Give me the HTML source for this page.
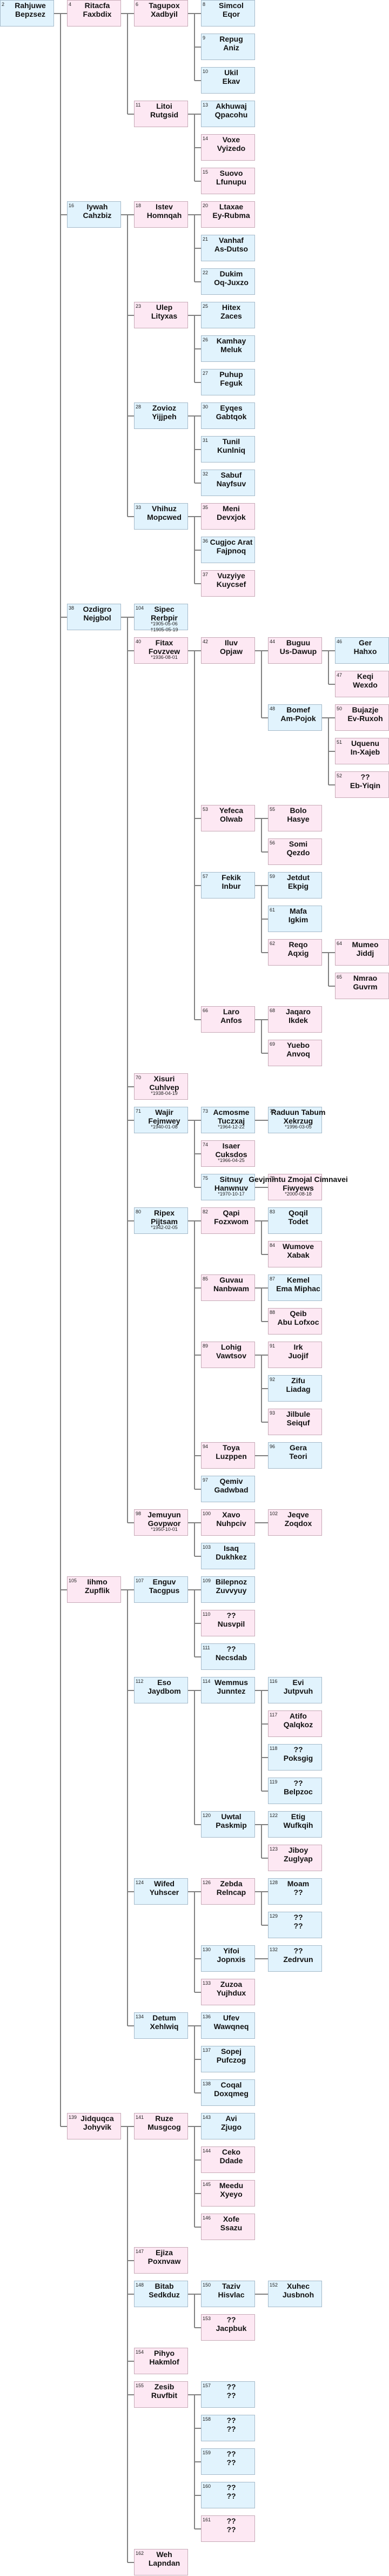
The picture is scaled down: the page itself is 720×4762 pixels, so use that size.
<!DOCTYPE html>
<html><head><meta charset="utf-8"><style>
html,body{margin:0;padding:0;background:#fff;}
body{width:720px;height:4762px;position:relative;overflow:hidden;font-family:"Liberation Sans",Arial,sans-serif;}
svg{position:absolute;left:0;top:0;}
.n{position:absolute;width:100px;height:49px;box-sizing:border-box;border:1px solid;}
.b{background:#e1f3fd;border-color:#a4b9c9;}
.p{background:#fde8f3;border-color:#c6a9b6;}
.n i{position:absolute;left:2px;top:2px;font-size:9px;line-height:10px;font-style:normal;color:#222;}
.n b{position:absolute;left:12px;right:0;top:1px;display:flex;flex-direction:column;align-items:center;font-size:14px;line-height:16px;white-space:nowrap;color:#111;}
.n b em{font-style:normal;font-weight:normal;font-size:9px;line-height:11px;color:#222;}
.n b em.f{margin-top:-2px;}
.c0{left:0}.c1{left:124px}.c2{left:248px}.c3{left:372px}.c4{left:496px}.c5{left:620px}
</style></head><body>
<svg width="720" height="4762"><path fill="none" stroke="#808080" stroke-width="2" d="
M100 25H124 M112 25V3931 M112 397H124 M112 1141H124 M112 2939H124 M112 3931H124
M224 25H248 M236 25V211 M236 211H248
M348 25H372 M360 25V149 M360 87H372 M360 149H372
M348 211H372 M360 211V335 M360 273H372 M360 335H372
M224 397H248 M236 397V955 M236 583H248 M236 769H248 M236 955H248
M348 397H372 M360 397V521 M360 459H372 M360 521H372
M348 583H372 M360 583V707 M360 645H372 M360 707H372
M348 769H372 M360 769V893 M360 831H372 M360 893H372
M348 955H372 M360 955V1079 M360 1017H372 M360 1079H372
M224 1141H248 M236 1141V2815 M236 1203H248 M236 2009H248 M236 2071H248 M236 2257H248 M236 2815H248
M348 1203H372 M360 1203V1885 M360 1513H372 M360 1637H372 M360 1885H372
M472 1203H496 M484 1203V1327 M484 1327H496
M596 1203H620 M608 1203V1265 M608 1265H620
M596 1327H620 M608 1327V1451 M608 1389H620 M608 1451H620
M472 1513H496 M484 1513V1575 M484 1575H496
M472 1637H496 M484 1637V1761 M484 1699H496 M484 1761H496
M596 1761H620 M608 1761V1823 M608 1823H620
M472 1885H496 M484 1885V1947 M484 1947H496
M348 2071H372 M360 2071V2195 M360 2133H372 M360 2195H372
M472 2071H496
M472 2195H496
M348 2257H372 M360 2257V2753 M360 2381H372 M360 2505H372 M360 2691H372 M360 2753H372
M472 2257H496 M484 2257V2319 M484 2319H496
M472 2381H496 M484 2381V2443 M484 2443H496
M472 2505H496 M484 2505V2629 M484 2567H496 M484 2629H496
M472 2691H496
M348 2815H372 M360 2815V2877 M360 2877H372
M472 2815H496
M224 2939H248 M236 2939V3745 M236 3125H248 M236 3497H248 M236 3745H248
M348 2939H372 M360 2939V3063 M360 3001H372 M360 3063H372
M348 3125H372 M360 3125V3373 M360 3373H372
M472 3125H496 M484 3125V3311 M484 3187H496 M484 3249H496 M484 3311H496
M472 3373H496 M484 3373V3435 M484 3435H496
M348 3497H372 M360 3497V3683 M360 3621H372 M360 3683H372
M472 3497H496 M484 3497V3559 M484 3559H496
M472 3621H496
M348 3745H372 M360 3745V3869 M360 3807H372 M360 3869H372
M224 3931H248 M236 3931V4737 M236 4179H248 M236 4241H248 M236 4365H248 M236 4427H248 M236 4737H248
M348 3931H372 M360 3931V4117 M360 3993H372 M360 4055H372 M360 4117H372
M348 4241H372 M360 4241V4303 M360 4303H372
M472 4241H496
M348 4427H372 M360 4427V4675 M360 4489H372 M360 4551H372 M360 4613H372 M360 4675H372
"/></svg>

<div class="n b c0" style="top:0"><i>2</i><b><span>Rahjuwe</span><span>Bepzsez</span></b></div>
<div class="n p c1" style="top:0"><i>4</i><b><span>Ritacfa</span><span>Faxbdix</span></b></div>
<div class="n p c2" style="top:0"><i>6</i><b><span>Tagupox</span><span>Xadbyil</span></b></div>
<div class="n b c3" style="top:0"><i>8</i><b><span>Simcol</span><span>Eqor</span></b></div>
<div class="n b c3" style="top:62px"><i>9</i><b><span>Repug</span><span>Aniz</span></b></div>
<div class="n b c3" style="top:124px"><i>10</i><b><span>Ukil</span><span>Ekav</span></b></div>
<div class="n p c2" style="top:186px"><i>11</i><b><span>Litoi</span><span>Rutgsid</span></b></div>
<div class="n b c3" style="top:186px"><i>13</i><b><span>Akhuwaj</span><span>Qpacohu</span></b></div>
<div class="n p c3" style="top:248px"><i>14</i><b><span>Voxe</span><span>Vyizedo</span></b></div>
<div class="n p c3" style="top:310px"><i>15</i><b><span>Suovo</span><span>Lfunupu</span></b></div>
<div class="n b c1" style="top:372px"><i>16</i><b><span>Iywah</span><span>Cahzbiz</span></b></div>
<div class="n p c2" style="top:372px"><i>18</i><b><span>Istev</span><span>Homnqah</span></b></div>
<div class="n p c3" style="top:372px"><i>20</i><b><span>Ltaxae</span><span>Ey-Rubma</span></b></div>
<div class="n b c3" style="top:434px"><i>21</i><b><span>Vanhaf</span><span>As-Dutso</span></b></div>
<div class="n b c3" style="top:496px"><i>22</i><b><span>Dukim</span><span>Oq-Juxzo</span></b></div>
<div class="n p c2" style="top:558px"><i>23</i><b><span>Ulep</span><span>Lityxas</span></b></div>
<div class="n b c3" style="top:558px"><i>25</i><b><span>Hitex</span><span>Zaces</span></b></div>
<div class="n b c3" style="top:620px"><i>26</i><b><span>Kamhay</span><span>Meluk</span></b></div>
<div class="n b c3" style="top:682px"><i>27</i><b><span>Puhup</span><span>Feguk</span></b></div>
<div class="n b c2" style="top:744px"><i>28</i><b><span>Zovioz</span><span>Yijjpeh</span></b></div>
<div class="n b c3" style="top:744px"><i>30</i><b><span>Eyqes</span><span>Gabtqok</span></b></div>
<div class="n b c3" style="top:806px"><i>31</i><b><span>Tunil</span><span>Kunlniq</span></b></div>
<div class="n b c3" style="top:868px"><i>32</i><b><span>Sabuf</span><span>Nayfsuv</span></b></div>
<div class="n b c2" style="top:930px"><i>33</i><b><span>Vhihuz</span><span>Mopcwed</span></b></div>
<div class="n p c3" style="top:930px"><i>35</i><b><span>Meni</span><span>Devxjok</span></b></div>
<div class="n b c3" style="top:992px"><i>36</i><b><span>Cugjoc Arat</span><span>Fajpnoq</span></b></div>
<div class="n p c3" style="top:1054px"><i>37</i><b><span>Vuzyiye</span><span>Kuycsef</span></b></div>
<div class="n b c1" style="top:1116px"><i>38</i><b><span>Ozdigro</span><span>Nejgbol</span></b></div>
<div class="n b c2" style="top:1116px"><i>104</i><b><span>Sipec</span><span>Rerbpir</span><em class="f">*1905-05-06</em><em>†1905-05-19</em></b></div>
<div class="n p c2" style="top:1178px"><i>40</i><b><span>Fitax</span><span>Fovzvew</span><em class="f">*1936-08-01</em></b></div>
<div class="n p c3" style="top:1178px"><i>42</i><b><span>Iluv</span><span>Opjaw</span></b></div>
<div class="n p c4" style="top:1178px"><i>44</i><b><span>Buguu</span><span>Us-Dawup</span></b></div>
<div class="n b c5" style="top:1178px"><i>46</i><b><span>Ger</span><span>Hahxo</span></b></div>
<div class="n p c5" style="top:1240px"><i>47</i><b><span>Keqi</span><span>Wexdo</span></b></div>
<div class="n b c4" style="top:1302px"><i>48</i><b><span>Bomef</span><span>Am-Pojok</span></b></div>
<div class="n p c5" style="top:1302px"><i>50</i><b><span>Bujazje</span><span>Ev-Ruxoh</span></b></div>
<div class="n p c5" style="top:1364px"><i>51</i><b><span>Uquenu</span><span>In-Xajeb</span></b></div>
<div class="n p c5" style="top:1426px"><i>52</i><b><span>??</span><span>Eb-Yiqin</span></b></div>
<div class="n p c3" style="top:1488px"><i>53</i><b><span>Yefeca</span><span>Olwab</span></b></div>
<div class="n p c4" style="top:1488px"><i>55</i><b><span>Bolo</span><span>Hasye</span></b></div>
<div class="n p c4" style="top:1550px"><i>56</i><b><span>Somi</span><span>Qezdo</span></b></div>
<div class="n b c3" style="top:1612px"><i>57</i><b><span>Fekik</span><span>Inbur</span></b></div>
<div class="n b c4" style="top:1612px"><i>59</i><b><span>Jetdut</span><span>Ekpig</span></b></div>
<div class="n b c4" style="top:1674px"><i>61</i><b><span>Mafa</span><span>Igkim</span></b></div>
<div class="n p c4" style="top:1736px"><i>62</i><b><span>Reqo</span><span>Aqxig</span></b></div>
<div class="n p c5" style="top:1736px"><i>64</i><b><span>Mumeo</span><span>Jiddj</span></b></div>
<div class="n p c5" style="top:1798px"><i>65</i><b><span>Nmrao</span><span>Guvrm</span></b></div>
<div class="n p c3" style="top:1860px"><i>66</i><b><span>Laro</span><span>Anfos</span></b></div>
<div class="n p c4" style="top:1860px"><i>68</i><b><span>Jaqaro</span><span>Ikdek</span></b></div>
<div class="n p c4" style="top:1922px"><i>69</i><b><span>Yuebo</span><span>Anvoq</span></b></div>
<div class="n p c2" style="top:1984px"><i>70</i><b><span>Xisuri</span><span>Cuhlvep</span><em class="f">*1938-04-19</em></b></div>
<div class="n b c2" style="top:2046px"><i>71</i><b><span>Wajir</span><span>Fejmwey</span><em class="f">*1940-01-08</em></b></div>
<div class="n b c3" style="top:2046px"><i>73</i><b><span>Acmosme</span><span>Tuczxaj</span><em class="f">*1964-12-22</em></b></div>
<div class="n b c4" style="top:2046px"><i>77</i><b><span>Raduun Tabum</span><span>Xekrzug</span><em class="f">*1996-03-05</em></b></div>
<div class="n p c3" style="top:2108px"><i>74</i><b><span>Isaer</span><span>Cuksdos</span><em class="f">*1966-04-25</em></b></div>
<div class="n b c3" style="top:2170px"><i>75</i><b><span>Sitnuy</span><span>Hanwnuv</span><em class="f">*1970-10-17</em></b></div>
<div class="n p c4" style="top:2170px"><i>79</i><b><span>Gevjmintu Zmojal Cimnavei</span><span>Fiwyews</span><em class="f">*2000-08-18</em></b></div>
<div class="n b c2" style="top:2232px"><i>80</i><b><span>Ripex</span><span>Pijtsam</span><em class="f">*1942-02-05</em></b></div>
<div class="n p c3" style="top:2232px"><i>82</i><b><span>Qapi</span><span>Fozxwom</span></b></div>
<div class="n b c4" style="top:2232px"><i>83</i><b><span>Qoqil</span><span>Todet</span></b></div>
<div class="n p c4" style="top:2294px"><i>84</i><b><span>Wumove</span><span>Xabak</span></b></div>
<div class="n p c3" style="top:2356px"><i>85</i><b><span>Guvau</span><span>Nanbwam</span></b></div>
<div class="n b c4" style="top:2356px"><i>87</i><b><span>Kemel</span><span>Ema Miphac</span></b></div>
<div class="n p c4" style="top:2418px"><i>88</i><b><span>Qeib</span><span>Abu Lofxoc</span></b></div>
<div class="n p c3" style="top:2480px"><i>89</i><b><span>Lohig</span><span>Vawtsov</span></b></div>
<div class="n p c4" style="top:2480px"><i>91</i><b><span>Irk</span><span>Juojif</span></b></div>
<div class="n b c4" style="top:2542px"><i>92</i><b><span>Zifu</span><span>Liadag</span></b></div>
<div class="n p c4" style="top:2604px"><i>93</i><b><span>Jilbule</span><span>Seiquf</span></b></div>
<div class="n p c3" style="top:2666px"><i>94</i><b><span>Toya</span><span>Luzppen</span></b></div>
<div class="n b c4" style="top:2666px"><i>96</i><b><span>Gera</span><span>Teori</span></b></div>
<div class="n b c3" style="top:2728px"><i>97</i><b><span>Qemiv</span><span>Gadwbad</span></b></div>
<div class="n p c2" style="top:2790px"><i>98</i><b><span>Jemuyun</span><span>Govpwor</span><em class="f">*1950-10-01</em></b></div>
<div class="n p c3" style="top:2790px"><i>100</i><b><span>Xavo</span><span>Nuhpciv</span></b></div>
<div class="n p c4" style="top:2790px"><i>102</i><b><span>Jeqve</span><span>Zoqdox</span></b></div>
<div class="n b c3" style="top:2852px"><i>103</i><b><span>Isaq</span><span>Dukhkez</span></b></div>
<div class="n p c1" style="top:2914px"><i>105</i><b><span>Iihmo</span><span>Zupflik</span></b></div>
<div class="n b c2" style="top:2914px"><i>107</i><b><span>Enguv</span><span>Tacgpus</span></b></div>
<div class="n b c3" style="top:2914px"><i>109</i><b><span>Bilepnoz</span><span>Zuvvyuy</span></b></div>
<div class="n p c3" style="top:2976px"><i>110</i><b><span>??</span><span>Nusvpil</span></b></div>
<div class="n b c3" style="top:3038px"><i>111</i><b><span>??</span><span>Necsdab</span></b></div>
<div class="n b c2" style="top:3100px"><i>112</i><b><span>Eso</span><span>Jaydbom</span></b></div>
<div class="n b c3" style="top:3100px"><i>114</i><b><span>Wemmus</span><span>Junntez</span></b></div>
<div class="n b c4" style="top:3100px"><i>116</i><b><span>Evi</span><span>Jutpvuh</span></b></div>
<div class="n p c4" style="top:3162px"><i>117</i><b><span>Atifo</span><span>Qalqkoz</span></b></div>
<div class="n b c4" style="top:3224px"><i>118</i><b><span>??</span><span>Poksgig</span></b></div>
<div class="n b c4" style="top:3286px"><i>119</i><b><span>??</span><span>Belpzoc</span></b></div>
<div class="n b c3" style="top:3348px"><i>120</i><b><span>Uwtal</span><span>Paskmip</span></b></div>
<div class="n b c4" style="top:3348px"><i>122</i><b><span>Etig</span><span>Wufkqih</span></b></div>
<div class="n p c4" style="top:3410px"><i>123</i><b><span>Jiboy</span><span>Zuglyap</span></b></div>
<div class="n b c2" style="top:3472px"><i>124</i><b><span>Wifed</span><span>Yuhscer</span></b></div>
<div class="n p c3" style="top:3472px"><i>126</i><b><span>Zebda</span><span>Relncap</span></b></div>
<div class="n b c4" style="top:3472px"><i>128</i><b><span>Moam</span><span>??</span></b></div>
<div class="n b c4" style="top:3534px"><i>129</i><b><span>??</span><span>??</span></b></div>
<div class="n b c3" style="top:3596px"><i>130</i><b><span>Yifoi</span><span>Jopnxis</span></b></div>
<div class="n b c4" style="top:3596px"><i>132</i><b><span>??</span><span>Zedrvun</span></b></div>
<div class="n p c3" style="top:3658px"><i>133</i><b><span>Zuzoa</span><span>Yujhdux</span></b></div>
<div class="n b c2" style="top:3720px"><i>134</i><b><span>Detum</span><span>Xehlwiq</span></b></div>
<div class="n b c3" style="top:3720px"><i>136</i><b><span>Ufev</span><span>Wawqneq</span></b></div>
<div class="n b c3" style="top:3782px"><i>137</i><b><span>Sopej</span><span>Pufczog</span></b></div>
<div class="n b c3" style="top:3844px"><i>138</i><b><span>Coqal</span><span>Doxqmeg</span></b></div>
<div class="n p c1" style="top:3906px"><i>139</i><b><span>Jidquqca</span><span>Johyvik</span></b></div>
<div class="n p c2" style="top:3906px"><i>141</i><b><span>Ruze</span><span>Musgcog</span></b></div>
<div class="n b c3" style="top:3906px"><i>143</i><b><span>Avi</span><span>Zjugo</span></b></div>
<div class="n p c3" style="top:3968px"><i>144</i><b><span>Ceko</span><span>Ddade</span></b></div>
<div class="n p c3" style="top:4030px"><i>145</i><b><span>Meedu</span><span>Xyeyo</span></b></div>
<div class="n p c3" style="top:4092px"><i>146</i><b><span>Xofe</span><span>Ssazu</span></b></div>
<div class="n p c2" style="top:4154px"><i>147</i><b><span>Ejiza</span><span>Poxnvaw</span></b></div>
<div class="n b c2" style="top:4216px"><i>148</i><b><span>Bitab</span><span>Sedkduz</span></b></div>
<div class="n b c3" style="top:4216px"><i>150</i><b><span>Taziv</span><span>Hisvlac</span></b></div>
<div class="n b c4" style="top:4216px"><i>152</i><b><span>Xuhec</span><span>Jusbnoh</span></b></div>
<div class="n p c3" style="top:4278px"><i>153</i><b><span>??</span><span>Jacpbuk</span></b></div>
<div class="n p c2" style="top:4340px"><i>154</i><b><span>Pihyo</span><span>Hakmlof</span></b></div>
<div class="n p c2" style="top:4402px"><i>155</i><b><span>Zesib</span><span>Ruvfbit</span></b></div>
<div class="n b c3" style="top:4402px"><i>157</i><b><span>??</span><span>??</span></b></div>
<div class="n b c3" style="top:4464px"><i>158</i><b><span>??</span><span>??</span></b></div>
<div class="n b c3" style="top:4526px"><i>159</i><b><span>??</span><span>??</span></b></div>
<div class="n b c3" style="top:4588px"><i>160</i><b><span>??</span><span>??</span></b></div>
<div class="n p c3" style="top:4650px"><i>161</i><b><span>??</span><span>??</span></b></div>
<div class="n p c2" style="top:4712px"><i>162</i><b><span>Weh</span><span>Lapndan</span></b></div>
</body></html>
